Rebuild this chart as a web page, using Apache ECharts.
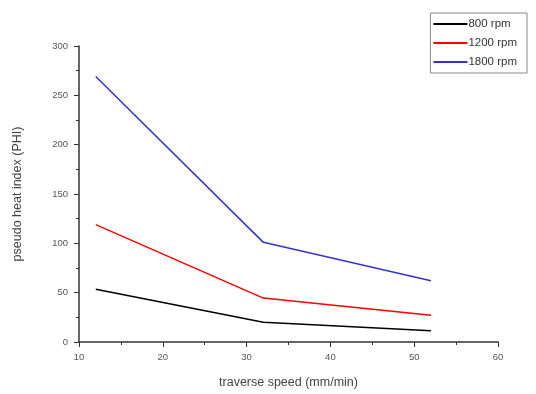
<!DOCTYPE html>
<html><head><meta charset="utf-8">
<script src="https://cdn.jsdelivr.net/npm/echarts@6/dist/echarts.min.js"></script>
<style>html,body{margin:0;padding:0;background:#fff}#c{width:536px;height:394px}</style>
</head><body><div id="c"></div>
<script>
const speeds = [12, 32, 52];
const rpm800 = [53.5, 20, 11.5];
const rpm1200 = [119, 44.5, 27];
const rpm1800 = [269, 101, 62];
const seriesNames = ['800 rpm', '1200 rpm', '1800 rpm'];
const colors = ['#000000', '#ff0000', '#3333cc'];
const allData = [rpm800, rpm1200, rpm1800];

const chart = echarts.init(document.getElementById('c'));
const axisCommon = {
  axisLine: {show: true, onZero: false, lineStyle: {color: '#333', width: 1.5}},
  axisTick: {show: true, length: 5, lineStyle: {color: '#333', width: 1}},
  minorTick: {show: true, splitNumber: 2, length: 3, lineStyle: {color: '#333'}},
  splitLine: {show: false},
  axisLabel: {color: '#555', fontSize: 9.5, fontFamily: 'Liberation Sans, Arial'},
  nameLocation: 'middle',
  nameTextStyle: {color: '#444', fontSize: 12.5, fontFamily: 'Liberation Sans, Arial'}
};
chart.setOption({
  animation: false,
  backgroundColor: '#fff',
  grid: {left: 79, right: 38, top: 46, bottom: 51, containLabel: false},
  legend: {
    orient: 'vertical', right: 9, top: 13,
    data: seriesNames,
    itemWidth: 34, itemHeight: 2, itemGap: 7,
    icon: 'rect',
    borderColor: '#888', borderWidth: 1, padding: [5, 10, 5, 3],
    textStyle: {fontSize: 11.5, color: '#333', fontFamily: 'Liberation Sans, Arial', padding: [0,0,0,-4]}
  },
  xAxis: Object.assign({}, axisCommon, {
    type: 'value', min: 10, max: 60, interval: 10,
    name: 'traverse speed (mm/min)', nameGap: 34,
    axisLabel: Object.assign({}, axisCommon.axisLabel, {margin: 10})
  }),
  yAxis: Object.assign({}, axisCommon, {
    type: 'value', min: 0, max: 300, interval: 50,
    name: 'pseudo heat index (PHI)', nameGap: 55,
    axisLabel: Object.assign({}, axisCommon.axisLabel, {margin: 11})
  }),
  series: seriesNames.map((n, i) => ({
    name: n, type: 'line', symbol: 'none',
    data: speeds.map((s, j) => [s, allData[i][j]]),
    lineStyle: {color: colors[i], width: 1.5},
    itemStyle: {color: colors[i]}
  }))
});
</script></body></html>
